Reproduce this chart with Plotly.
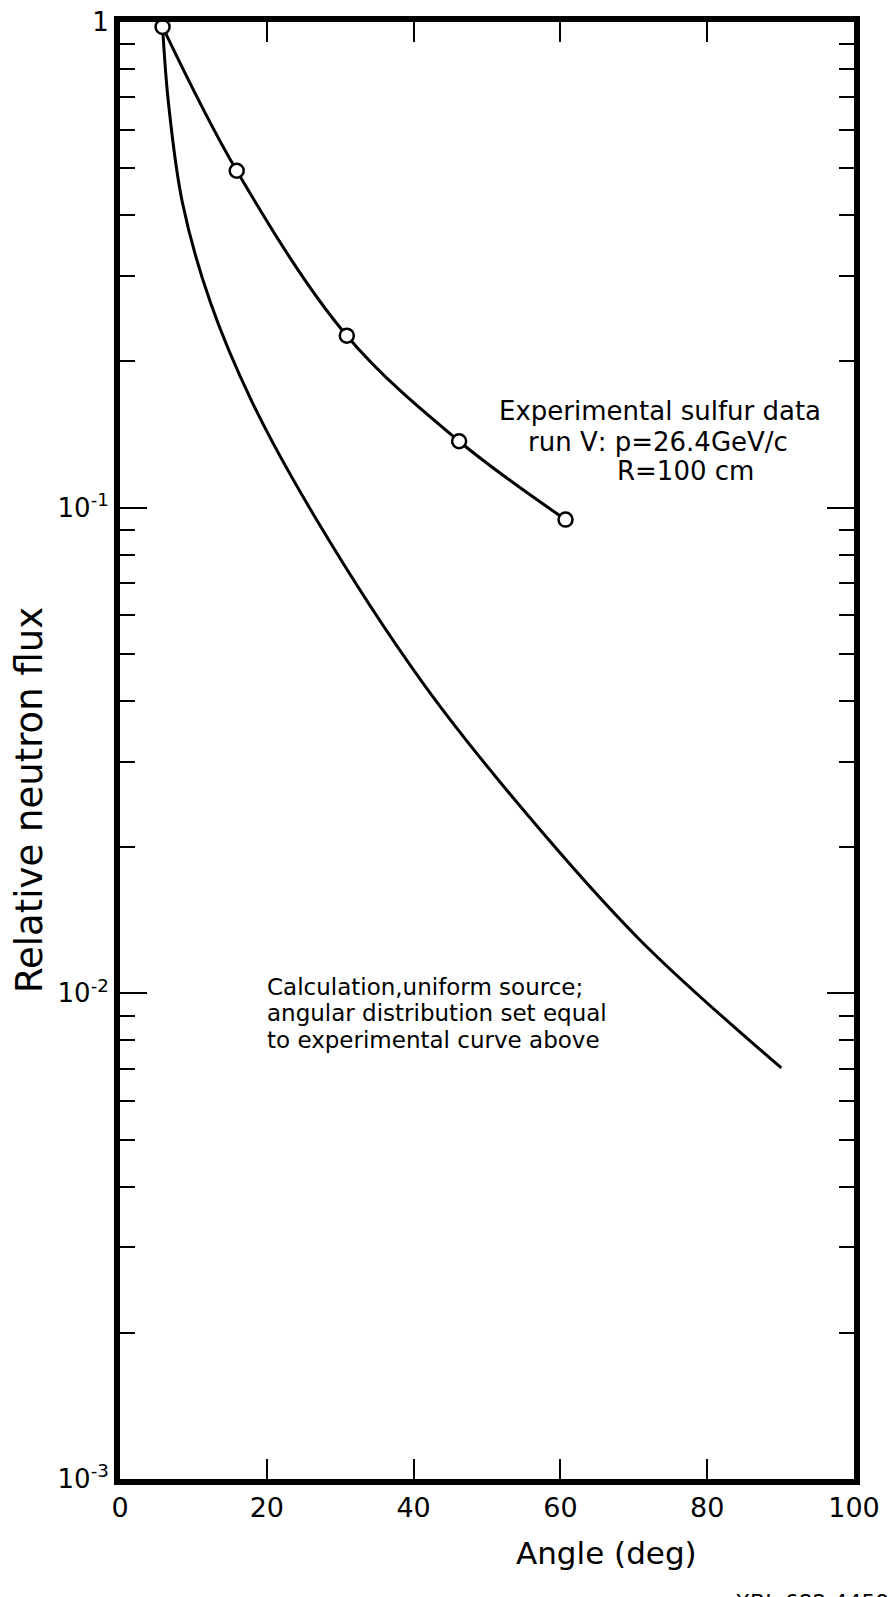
import plotly.graph_objects as go

# Experimental sulfur data (open circles)
exp_angle = [5.8, 15.9, 30.9, 46.2, 60.7]
exp_flux = [0.977, 0.494, 0.226, 0.137, 0.0945]

# Calculation, uniform source
calc_angle = [5.8, 6.6, 8.5, 12.3, 18.0, 26.7, 41.1, 54.7, 70.9, 90.1]
calc_flux = [0.977, 0.682, 0.425, 0.265, 0.165, 0.0949, 0.0439, 0.0241, 0.01285, 0.00702]

# Axis ticks
x_tickvals = [0, 20, 40, 60, 80, 100]
x_ticktext = ["0", "20", "40", "60", "80", "100"]
y_tickvals = [0.001, 0.01, 0.1, 1]
y_ticktext = ["10<sup>-3</sup>", "10<sup>-2</sup>", "10<sup>-1</sup>", "1"]
y_minor = [k * 10 ** e for e in (-3, -2, -1) for k in range(2, 10)]

FONT = "DejaVu Sans"

fig = go.Figure()
fig.add_trace(go.Scatter(
    x=calc_angle, y=calc_flux, mode="lines",
    line=dict(color="black", width=3, shape="spline", smoothing=1.0),
    showlegend=False, cliponaxis=False,
))
fig.add_trace(go.Scatter(
    x=exp_angle, y=exp_flux, mode="lines+markers",
    line=dict(color="black", width=3, shape="spline", smoothing=1.0),
    marker=dict(symbol="circle", size=14, color="white", line=dict(color="black", width=2.5)),
    showlegend=False, cliponaxis=False,
))

W, H = 891, 1597
L, R, T, B = 120, 37, 22, 118
pw, ph = W - L - R, H - T - B

def px(X):
    return (X - L) / pw

def py(Y):
    return (H - B - Y) / ph

annots = [
    dict(text="Relative neutron flux", x=px(29), y=py(800), textangle=-90,
         xanchor="center", yanchor="middle", font=dict(size=37)),
    dict(text="Angle (deg)", x=px(606), y=py(1553),
         xanchor="center", yanchor="middle", font=dict(size=31)),
    dict(text="Experimental sulfur data", x=px(660), y=py(411),
         xanchor="center", yanchor="middle", font=dict(size=26)),
    dict(text="run Ⅴ: p=26.4GeV/c", x=px(658), y=py(442),
         xanchor="center", yanchor="middle", font=dict(size=26)),
    dict(text="R=100 cm", x=px(685), y=py(471),
         xanchor="center", yanchor="middle", font=dict(size=26)),
    dict(text="Calculation,uniform source;", x=px(265), y=py(987),
         xanchor="left", yanchor="middle", font=dict(size=23)),
    dict(text="angular distribution set equal", x=px(265), y=py(1013),
         xanchor="left", yanchor="middle", font=dict(size=23)),
    dict(text="to experimental curve above", x=px(265), y=py(1040),
         xanchor="left", yanchor="middle", font=dict(size=23)),
    dict(text="XBL 682 4459", x=px(733), y=py(1588),
         xanchor="left", yanchor="top", font=dict(size=22)),
]
for a in annots:
    a.update(xref="paper", yref="paper", showarrow=False)
    a["font"].update(family=FONT, color="black")

fig.update_layout(
    width=W, height=H,
    margin=dict(l=L, r=R, t=T, b=B, pad=0, autoexpand=False),
    paper_bgcolor="white", plot_bgcolor="white",
    font=dict(family=FONT, color="black", size=24),
    annotations=annots,
    xaxis=dict(
        range=[0, 100], tickmode="array", tickvals=x_tickvals, ticktext=x_ticktext,
        ticks="inside", ticklen=20, tickwidth=2, tickcolor="black",
        showline=True, linewidth=6, linecolor="black", mirror="ticks",
        showgrid=False, zeroline=False, tickfont=dict(size=27), automargin=False,
    ),
    yaxis=dict(
        type="log", range=[-3, 0], tickmode="array", tickvals=y_tickvals, ticktext=y_ticktext,
        ticks="inside", ticklen=27, tickwidth=2, tickcolor="black",
        minor=dict(tickmode="array", tickvals=y_minor, ticks="inside", ticklen=15,
                   tickwidth=2, tickcolor="black", showgrid=False),
        showline=True, linewidth=6, linecolor="black", mirror="ticks",
        showgrid=False, zeroline=False, tickfont=dict(size=26), automargin=False,
    ),
)

fig.write_html(
    "out.html",
    config={"displayModeBar": False},
    post_script="document.body.style.margin='0';document.body.style.padding='0';document.body.style.overflow='hidden';",
)
